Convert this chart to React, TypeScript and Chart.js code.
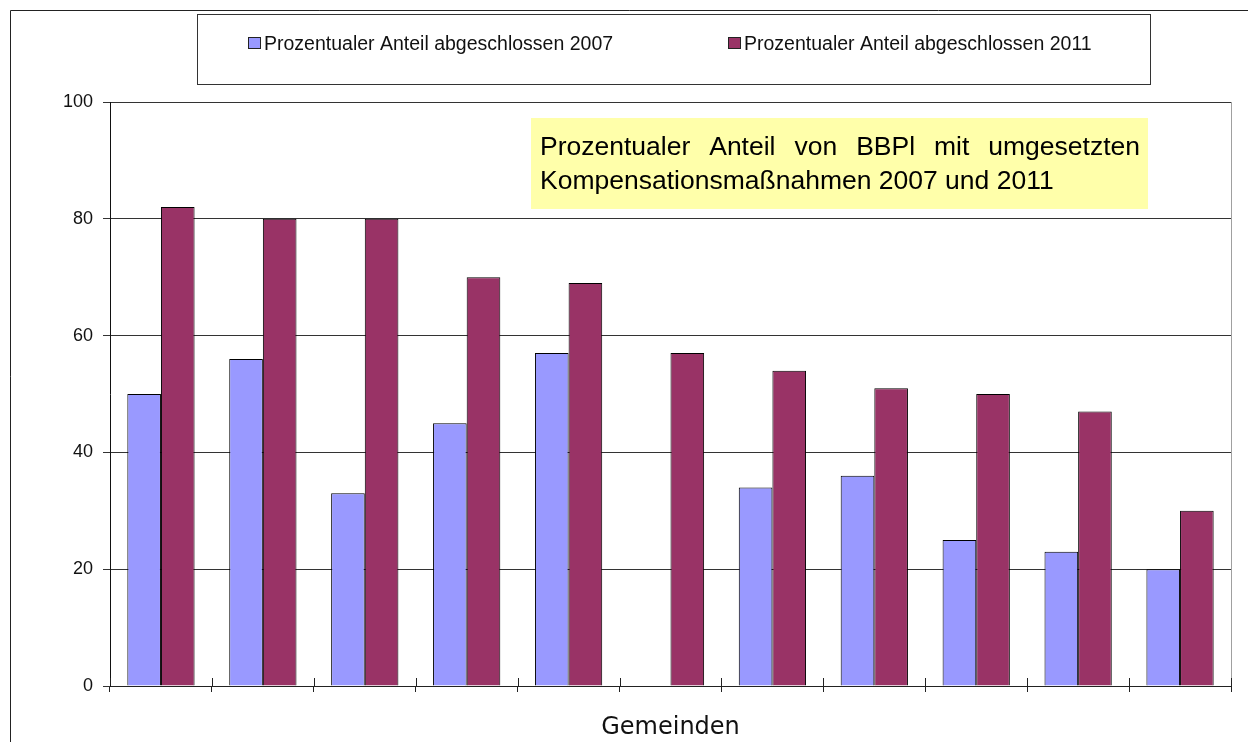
import React, { useEffect, useRef } from "react";
import { Chart, registerables } from "chart.js";

Chart.register(...registerables);

// ---- data ----
const categories = [
  "Gemeinde 1", "Gemeinde 2", "Gemeinde 3", "Gemeinde 4", "Gemeinde 5", "Gemeinde 6",
  "Gemeinde 7", "Gemeinde 8", "Gemeinde 9", "Gemeinde 10", "Gemeinde 11",
];
const share2007: (number | null)[] = [50, 56, 33, 45, 57, null, 34, 36, 25, 23, 20];
const share2011: number[] = [82, 80, 80, 70, 69, 57, 54, 51, 50, 47, 30];
const seriesLabels = [
  "Prozentualer Anteil abgeschlossen 2007",
  "Prozentualer Anteil abgeschlossen 2011",
];
const yTicks = [0, 20, 40, 60, 80, 100];
const xAxisTitle = "Gemeinden";
const annotationLines = [
  "Prozentualer Anteil von BBPl mit umgesetzten",
  "Kompensationsmaßnahmen 2007 und 2011",
];

const BLUE = "#9999ff";
const RED = "#993366";
const FONT = "'Liberation Sans', Arial, sans-serif";

const framePlugin = {
  id: "frame",
  beforeDraw(chart: any) {
    const { ctx, width, height, chartArea } = chart;
    ctx.save();
    ctx.fillStyle = "#ffffff";
    ctx.fillRect(0, 0, width, height);
    // outer chart border
    ctx.strokeStyle = "#222";
    ctx.lineWidth = 1;
    ctx.beginPath();
    ctx.moveTo(10.5, height);
    ctx.lineTo(10.5, 10.5);
    ctx.lineTo(width, 10.5);
    ctx.stroke();
    // plot area outline (right side grey)
    ctx.strokeStyle = "#a0a0a0";
    ctx.beginPath();
    ctx.moveTo(chartArea.right + 0.5, chartArea.top);
    ctx.lineTo(chartArea.right + 0.5, chartArea.bottom);
    ctx.stroke();
    ctx.restore();
  },
  afterDatasetsDraw(chart: any) {
    const { ctx, chartArea } = chart;
    const xs = chart.scales.x;
    ctx.save();
    // cross tick marks on the category axis (inside part)
    ctx.strokeStyle = "#222";
    ctx.lineWidth = 1;
    for (let i = 0; i <= categories.length; i++) {
      const px = Math.round(xs.getPixelForValue(i - 0.5)) + 0.5;
      ctx.beginPath();
      ctx.moveTo(px, chartArea.bottom - 8);
      ctx.lineTo(px, chartArea.bottom);
      ctx.stroke();
    }

    // legend box
    ctx.fillStyle = "#ffffff";
    ctx.fillRect(197, 14, 953, 70);
    ctx.strokeStyle = "#333";
    ctx.strokeRect(197.5, 14.5, 953, 70);
    const legendX = [248, 728];
    ctx.font = `19.5px ${FONT}`;
    ctx.textBaseline = "alphabetic";
    ctx.textAlign = "left";
    chart.data.datasets.forEach((ds: any, i: number) => {
      const x = legendX[i];
      ctx.fillStyle = ds.backgroundColor;
      ctx.fillRect(x, 37, 13, 12);
      ctx.strokeStyle = "#222";
      ctx.strokeRect(x + 0.5, 37.5, 12, 11);
      ctx.fillStyle = "#111";
      ctx.fillText(ds.label, x + 16, 50);
    });

    // annotation box
    ctx.fillStyle = "#ffffaa";
    ctx.fillRect(531, 118, 617, 91);
    ctx.fillStyle = "#000";
    ctx.font = `26.5px ${FONT}`;
    const left = 540;
    const right = 1140;
    const words = annotationLines[0].split(" ");
    const widths = words.map((w) => ctx.measureText(w).width);
    const total = widths.reduce((a, b) => a + b, 0);
    const gap = (right - left - total) / (words.length - 1);
    let cx = left;
    words.forEach((w, i) => {
      ctx.fillText(w, cx, 155);
      cx += widths[i] + gap;
    });
    ctx.fillText(annotationLines[1], left, 189);
    ctx.restore();
  },
};

export default function App() {
  const canvasRef = useRef<HTMLCanvasElement | null>(null);

  useEffect(() => {
    const canvas = canvasRef.current;
    if (!canvas) return;
    const chart = new Chart(canvas, {
      type: "bar",
      data: {
        labels: categories,
        datasets: [
          {
            label: seriesLabels[0],
            data: share2007,
            backgroundColor: BLUE,
            borderColor: "#000",
            borderWidth: 1,
            categoryPercentage: 0.66,
            barPercentage: 1.0,
          },
          {
            label: seriesLabels[1],
            data: share2011,
            backgroundColor: RED,
            borderColor: "#000",
            borderWidth: 1,
            categoryPercentage: 0.66,
            barPercentage: 1.0,
          },
        ],
      },
      options: {
        responsive: false,
        animation: false,
        devicePixelRatio: 1,
        layout: { padding: { left: 0, right: 17, top: 102, bottom: 0 } },
        plugins: {
          legend: { display: false },
          tooltip: { enabled: false },
          title: { display: false },
        },
        scales: {
          x: {
            type: "category",
            grid: {
              display: true,
              offset: true,
              drawOnChartArea: false,
              drawTicks: true,
              tickLength: 6,
              color: "#222",
            },
            border: { display: true, color: "#222", width: 1 },
            ticks: { callback: () => "", padding: 0 },
            title: {
              display: true,
              text: xAxisTitle,
              color: "#111",
              font: { family: "'DejaVu Sans', Verdana, sans-serif", size: 24 },
              padding: { top: 0, bottom: 0 },
            },
            afterFit: (s: any) => {
              s.height = 56;
            },
          },
          y: {
            min: 0,
            max: 100,
            afterBuildTicks: (s: any) => {
              s.ticks = yTicks.map((v) => ({ value: v }));
            },
            ticks: {
              color: "#111",
              padding: 10,
              font: { family: FONT, size: 18 },
            },
            grid: {
              color: "#333",
              lineWidth: 1,
              drawTicks: true,
              tickLength: 7,
            },
            border: { display: true, color: "#111", width: 1 },
            afterFit: (s: any) => {
              s.width = 110;
            },
          },
        },
      },
      plugins: [framePlugin],
    });
    return () => chart.destroy();
  }, []);

  return (
    <div style={{ position: "absolute", left: 0, top: 0, width: 1248, height: 742, background: "#fff" }}>
      <canvas ref={canvasRef} width={1248} height={742} style={{ display: "block", width: 1248, height: 742 }} />
    </div>
  );
}
